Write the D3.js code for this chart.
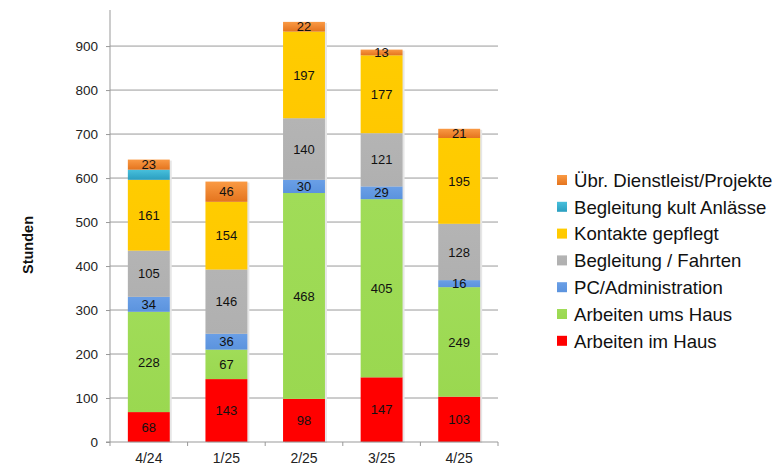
<!DOCTYPE html>
<html>
<head>
<meta charset="utf-8">
<script src="https://cdn.jsdelivr.net/npm/d3@7"></script>
<style>
  body { margin: 0; background: #fff; }
  svg text { font-family: "Liberation Sans", Arial, sans-serif; }
</style>
</head>
<body>
<svg id="chart" width="774" height="466"></svg>
<script>
const categories = ["4/24", "1/25", "2/25", "3/25", "4/25"];

const seriesNames = [
  "Arbeiten im Haus",
  "Arbeiten ums Haus",
  "PC/Administration",
  "Begleitung / Fahrten",
  "Kontakte gepflegt",
  "Begleitung kult Anlässe",
  "Übr. Dienstleist/Projekte",
];

const arbeitenImHaus = [68, 143, 98, 147, 103];
const arbeitenUmsHaus = [228, 67, 468, 405, 249];
const pcAdmin = [34, 36, 30, 29, 16];
const begleitungFahrten = [105, 146, 140, 121, 128];
const kontakte = [161, 154, 197, 177, 195];
const kultAnlaesse = [23, 0, 0, 0, 0];
const uebrige = [23, 46, 22, 13, 21];

const yTicks = [0, 100, 200, 300, 400, 500, 600, 700, 800, 900];

const seriesValues = [arbeitenImHaus, arbeitenUmsHaus, pcAdmin, begleitungFahrten, kontakte, kultAnlaesse, uebrige];
// colours: [top of gradient, bottom of gradient]
const colors = [
  ["#ff0000", "#ff0000"],
  ["#a0dc58", "#9ad850"],
  ["#6a9fe6", "#5b93de"],
  ["#b4b4b4", "#b0b0b0"],
  ["#ffcc00", "#ffc800"],
  ["#48c0dc", "#2a9ec0"],
  ["#fa9a44", "#e4741e"],
];
const showLabels = [true, true, true, true, true, false, true];

const svg = d3.select("#chart");

const x = d3.scaleBand().domain(categories).range([110, 498]).paddingInner(0.46).paddingOuter(0.23);
const y = d3.scaleLinear().domain([0, 982]).range([442, 10]);

const defs = svg.append("defs");
colors.forEach((c, i) => {
  const g = defs.append("linearGradient").attr("id", "grad" + i)
    .attr("x1", 0).attr("y1", 0).attr("x2", 0).attr("y2", 1);
  g.append("stop").attr("offset", "0%").attr("stop-color", c[0]);
  g.append("stop").attr("offset", "100%").attr("stop-color", c[1]);
});

// gridlines
svg.append("g")
  .selectAll("line")
  .data(yTicks.slice(1))
  .enter()
  .append("line")
  .attr("x1", 110).attr("x2", 498)
  .attr("y1", (d) => y(d)).attr("y2", (d) => y(d))
  .attr("stroke", "#9a9a9a").attr("stroke-width", 1);

const rows = categories.map((c, i) => {
  const row = { cat: c };
  seriesNames.forEach((s, j) => { row[s] = seriesValues[j][i]; });
  return row;
});
const stacked = d3.stack().keys(seriesNames)(rows);

// bar shadows
svg.append("g")
  .selectAll("rect")
  .data(rows)
  .enter()
  .append("rect")
  .attr("x", (d) => x(d.cat) + 2)
  .attr("y", (d, i) => y(stacked[stacked.length - 1][i][1]) + 1)
  .attr("width", x.bandwidth())
  .attr("height", (d, i) => y(0) - y(stacked[stacked.length - 1][i][1]))
  .attr("fill", "#e6e6e6");

const layers = svg.append("g")
  .selectAll("g")
  .data(stacked)
  .enter()
  .append("g")
  .attr("fill", (d, i) => "url(#grad" + i + ")");

layers.selectAll("rect")
  .data((d) => d)
  .enter()
  .append("rect")
  .filter((d) => d[1] - d[0] > 0)
  .attr("x", (d) => x(d.data.cat))
  .attr("y", (d) => y(d[1]))
  .attr("width", x.bandwidth())
  .attr("height", (d) => y(d[0]) - y(d[1]));

// data labels
stacked.forEach((layer, i) => {
  if (!showLabels[i]) return;
  svg.append("g")
    .selectAll("text")
    .data(layer.filter((d) => d[1] - d[0] > 0))
    .enter()
    .append("text")
    .attr("x", (d) => x(d.data.cat) + x.bandwidth() / 2)
    .attr("y", (d) => (y(d[0]) + y(d[1])) / 2)
    .attr("dy", "0.36em")
    .attr("text-anchor", "middle")
    .attr("font-size", "13px")
    .attr("fill", "#111")
    .text((d) => d[1] - d[0]);
});

// y axis
const yAxis = d3.axisLeft(y).tickValues(yTicks).tickSize(4).tickPadding(8);
const gy = svg.append("g").attr("transform", "translate(110,0)").call(yAxis);
gy.select(".domain").attr("stroke", "#999").attr("d", "M0,10V442");
gy.selectAll(".tick line").attr("stroke", "#999");
gy.selectAll(".tick text").attr("font-size", "13.5px").attr("fill", "#222")
  .attr("font-family", "Liberation Sans, Arial, sans-serif");

// x axis
const gx = svg.append("g").attr("transform", "translate(0,442)");
gx.append("line").attr("x1", 106).attr("x2", 498).attr("stroke", "#999");
const step = x.step();
gx.selectAll(".sep")
  .data(categories.concat(["end"]))
  .enter()
  .append("line")
  .attr("x1", (d, i) => 110 + i * step)
  .attr("x2", (d, i) => 110 + i * step)
  .attr("y1", 0).attr("y2", 4)
  .attr("stroke", "#999");
gx.selectAll("text")
  .data(categories)
  .enter()
  .append("text")
  .attr("x", (d) => x(d) + x.bandwidth() / 2)
  .attr("y", 21)
  .attr("text-anchor", "middle")
  .attr("font-size", "14px")
  .attr("fill", "#222")
  .text((d) => d);

// y axis title
svg.append("text")
  .attr("transform", "translate(33,245) rotate(-90)")
  .attr("text-anchor", "middle")
  .attr("font-size", "14.5px")
  .attr("font-weight", "bold")
  .attr("fill", "#111")
  .text("Stunden");

// legend (top entry = last series)
const legend = svg.append("g")
  .selectAll("g")
  .data(seriesNames.slice().reverse())
  .enter()
  .append("g")
  .attr("transform", (d, i) => "translate(557," + (180 + i * 26.8) + ")");

legend.append("rect")
  .attr("x", 0).attr("y", -5).attr("width", 10).attr("height", 10)
  .attr("fill", (d) => "url(#grad" + seriesNames.indexOf(d) + ")");

legend.append("text")
  .attr("x", 17).attr("y", 0).attr("dy", "0.36em")
  .attr("font-size", "18.6px")
  .attr("fill", "#111")
  .text((d) => d);
</script>
</body>
</html>
